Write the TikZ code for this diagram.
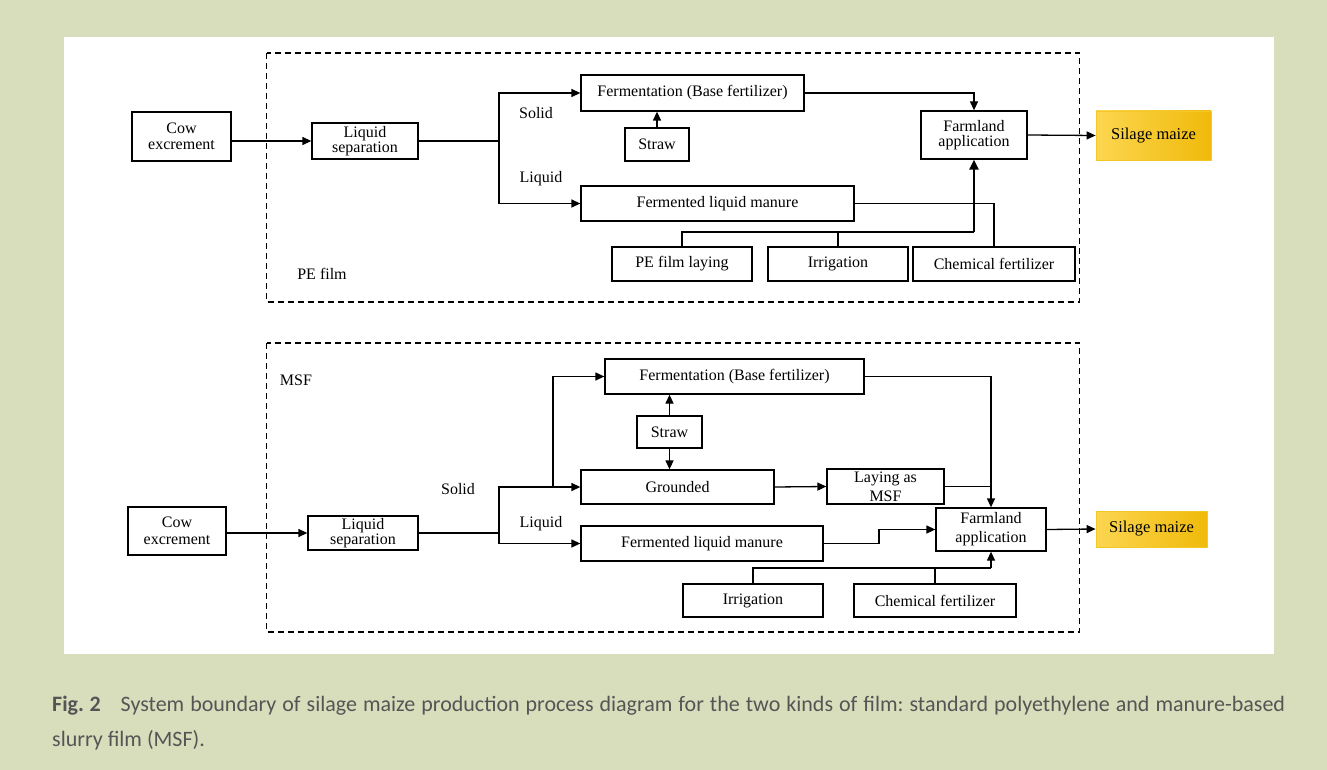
\documentclass[tikz,border=0pt]{standalone}
\usepackage{fontspec}
\setmainfont{Liberation Serif}
\newfontfamily\capfont{Carlito}
\usetikzlibrary{arrows.meta}
\definecolor{bgc}{RGB}{216,222,188}
\definecolor{capgray}{RGB}{85,85,85}
\definecolor{goldL}{RGB}{252,214,80}
\definecolor{goldR}{RGB}{240,186,10}
\definecolor{goldB}{RGB}{244,200,40}
\frenchspacing
\begin{document}
\begin{tikzpicture}[x=1pt,y=-1pt,
  box/.style={draw,line width=1.3pt,inner sep=0pt,align=center,font=\fontsize{16}{15.5}\selectfont},
  gold/.style={draw=goldB,line width=0.8pt,inner sep=0pt,left color=goldL,right color=goldR,align=center,font=\fontsize{16.5}{15.5}\selectfont},
  lbl/.style={inner sep=0pt,font=\fontsize{16}{15.5}\selectfont},
  conn/.style={line width=1.3pt},
  arr/.style={line width=1.3pt,-{Triangle[length=9pt,width=8pt]}},
  thickarr/.style={line width=2.4pt,-{Triangle[length=10pt,width=9pt]}},
  boundary/.style={line width=1.2pt,dash pattern=on 6pt off 4pt}]
\useasboundingbox (0,0) rectangle (1327,770);
\fill[bgc] (0,0) rectangle (1327,770);
\fill[white] (64,37) rectangle (1274,654);

% ---------- Top: PE film ----------
\draw[boundary] (266.5,53) rectangle (1079.5,302);
\node[box,minimum width=99pt,minimum height=49pt] (cow1) at (181.5,136.5) {Cow\\excrement};
\node[box,minimum width=106pt,minimum height=36pt] (sep1) at (365,141) {Liquid\\separation};
\node[box,minimum width=223pt,minimum height=36pt] (ferm1) at (692.5,93) {Fermentation (Base fertilizer)};
\node[box,minimum width=64pt,minimum height=33pt] (straw1) at (657,144.5) {Straw};
\node[box,minimum width=106pt,minimum height=48pt] (farm1) at (974,135) {Farmland\\application};
\node[gold,minimum width=115pt,minimum height=49pt] (silage1) at (1153.5,135.5) {Silage maize};
\node[box,minimum width=273pt,minimum height=35pt] (liq1) at (717.5,203.5) {Fermented liquid manure};
\node[box,minimum width=140pt,minimum height=34pt] (pe1) at (682,264) {PE film laying};
\node[box,minimum width=140pt,minimum height=34pt] (irr1) at (838,264) {Irrigation};
\node[box,minimum width=162pt,minimum height=34pt] (chem1) at (994,264) {Chemical fertilizer};
\node[lbl] (solid1) at (536,113) {Solid};
\node[lbl] (liqlbl1) at (541,179) {Liquid};
\node[lbl] (pefilm) at (322,274) {PE film};
\coordinate (j1) at (499,141);
\coordinate (b1) at (974,232);

\draw[arr] (cow1.east |- sep1.west) -- (sep1.west);
\draw[conn] (sep1.east) -- (j1);
\draw[arr] (j1) |- (ferm1.west);
\draw[arr] (j1) |- (liq1.west);
\draw[arr] (straw1.north) -- (straw1.north |- ferm1.south);
\draw[arr] (ferm1.east) -| (farm1.north);
\draw[arr] (farm1.east) -- (silage1.west);
\draw[conn] (liq1.east) -| (chem1.north);
\draw[conn] (pe1.north) |- (b1);
\draw[conn] (irr1.north) -- (irr1.north |- b1);
\draw[thickarr] (b1) -- (farm1.south);

% ---------- Bottom: MSF ----------
\draw[boundary] (266.5,343) rectangle (1079.5,632);
\node[box,minimum width=98pt,minimum height=48pt,font=\fontsize{16}{17}\selectfont] (cow2) at (177,531) {Cow\\excrement};
\node[box,minimum width=110pt,minimum height=34pt] (sep2) at (363,533) {Liquid\\separation};
\node[box,minimum width=259pt,minimum height=35pt] (ferm2) at (734.5,376.5) {Fermentation (Base fertilizer)};
\node[box,minimum width=65pt,minimum height=32pt] (straw2) at (669.5,432) {Straw};
\node[box,minimum width=193pt,minimum height=34pt] (grd2) at (677.5,487) {Grounded};
\node[box,minimum width=117pt,minimum height=35pt,font=\fontsize{16}{19}\selectfont] (lay2) at (885.5,486.5) {Laying as\\MSF};
\node[box,minimum width=110pt,minimum height=43pt,font=\fontsize{16}{19}\selectfont] (farm2) at (991,529.5) {Farmland\\application};
\node[box,minimum width=242pt,minimum height=35pt] (liq2) at (702,543.5) {Fermented liquid manure};
\node[gold,minimum width=111pt,minimum height=36pt] (silage2) at (1151.5,529) {Silage maize};
\node[box,minimum width=140pt,minimum height=33pt] (irr2) at (753,600.5) {Irrigation};
\node[box,minimum width=162pt,minimum height=33pt] (chem2) at (935,600.5) {Chemical fertilizer};
\node[lbl] (msf) at (296,380) {MSF};
\node[lbl] (solid2) at (458,489) {Solid};
\node[lbl] (liqlbl2) at (541,524) {Liquid};
\coordinate (j2) at (499,533);
\coordinate (k2) at (553,487);
\coordinate (m2) at (879,536);
\coordinate (b2) at (991,568);

\draw[arr] (cow2.east |- sep2.west) -- (sep2.west);
\draw[conn] (sep2.east) -- (j2);
\draw[arr] (j2) |- (grd2.west);
\draw[arr] (j2) |- (liq2.west);
\draw[arr] (k2) |- (ferm2.west);
\draw[arr] (straw2.north) -- (straw2.north |- ferm2.south);
\draw[arr] (straw2.south) -- (straw2.south |- grd2.north);
\draw[arr] (grd2.east) -- (lay2.west);
\draw[arr] (ferm2.east) -| (farm2.north);
\draw[conn] (lay2.east) -- (lay2.east -| farm2.north);
\draw[arr] (liq2.east) -| (m2) |- (farm2.west);
\draw[arr] (farm2.east) -- (silage2.west);
\draw[conn] (irr2.north) |- (b2);
\draw[conn] (chem2.north) -- (chem2.north |- b2);
\draw[arr] (b2) -- (farm2.south);

% ---------- Caption ----------
\node[anchor=base west,inner sep=0pt,text=capgray] (cap1) at (52,711)
  {\capfont\fontsize{22}{26}\selectfont\makebox[1233pt][s]{\mbox{\textbf{Fig.\kern0.25em 2}}\hspace{14pt} System boundary of silage maize production process diagram for the two kinds of film: standard polyethylene and manure-based}};
\node[anchor=base west,inner sep=0pt,text=capgray] (cap2) at (52,746)
  {\capfont\fontsize{22}{26}\selectfont slurry film (MSF).};
\end{tikzpicture}
\end{document}
